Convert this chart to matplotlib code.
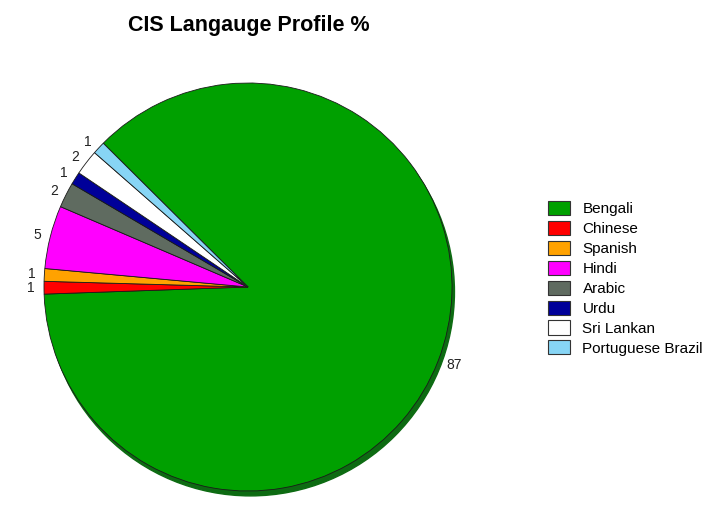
import matplotlib
matplotlib.use("Agg")
import matplotlib.pyplot as plt
from matplotlib.patches import Circle, Patch

# data
languages = ["Bengali", "Chinese", "Spanish", "Hindi", "Arabic", "Urdu",
             "Sri Lankan", "Portuguese Brazil"]
percent = [87, 1, 1, 5, 2, 1, 2, 1]
colors = ["#00a000", "#ff0000", "#ffa200", "#ff00ff", "#5f6b60",
          "#000099", "#ffffff", "#87d5f5"]

plt.rcParams['font.family'] = ['Liberation Sans', 'DejaVu Sans']

W, H = 713, 518
fig = plt.figure(figsize=(W / 100, H / 100), dpi=100)

# pie axes: centre (248, 287) px, radius 204 px
cx, cy, r = 248, 287, 204
ax = fig.add_axes([(cx - r) / W, (H - cy - r) / H, 2 * r / W, 2 * r / H])
ax.set_xlim(-1, 1)
ax.set_ylim(-1, 1)
ax.set_aspect('equal')
ax.axis('off')

# 3d-ish dark rim under the pie
ax.add_patch(Circle((0.012, -0.024), 1.0, color="#0d6b12", zorder=0,
                    clip_on=False))

wedges, texts = ax.pie(percent, colors=colors, startangle=135.2,
                       counterclock=False, labels=[str(p) for p in percent],
                       labeldistance=1.045, radius=1.0, frame=False,
                       wedgeprops=dict(edgecolor="#1a1a1a", linewidth=0.6),
                       textprops=dict(fontsize=10, color="#222222"))
for w in wedges:
    w.set_zorder(2)
    w.set_clip_on(False)
ax.set_xlim(-1, 1)
ax.set_ylim(-1, 1)

fig.text(249 / W, 1 - 25 / H, "CIS Langauge Profile %", ha='center', va='center',
         fontsize=15.5, fontweight='bold', color="black")

handles = [Patch(facecolor=c, edgecolor="#333333", linewidth=0.8) for c in colors]
fig.legend(handles, languages, loc='upper left',
           bbox_to_anchor=(542 / W, 1 - 195 / H), frameon=False,
           fontsize=11, handlelength=1.45, handleheight=1.05,
           labelspacing=0.30, handletextpad=0.8, borderaxespad=0)

fig.savefig("out.png", dpi=100)
